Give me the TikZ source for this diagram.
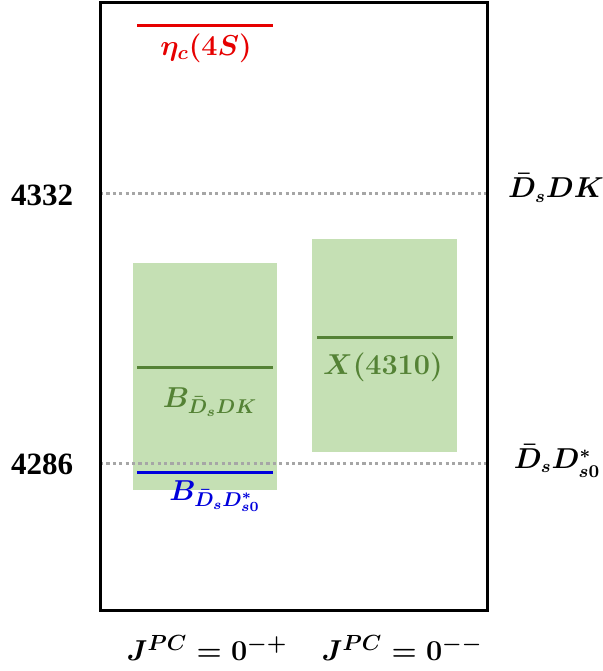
\documentclass[tikz,border=0pt]{standalone}
\usepackage{fontspec}
\setmainfont{Liberation Serif}
\usepackage{xcolor}
\usepackage{tikz}

\definecolor{levelred}{RGB}{230,0,0}
\definecolor{bandgreen}{RGB}{197,224,180}
\definecolor{levelgreen}{RGB}{84,130,53}
\definecolor{levelblue}{RGB}{0,0,220}
\definecolor{threshgray}{RGB}{166,166,166}

\tikzset{
  level/.style={line width=1.5pt},
  thresh/.style={threshgray, line width=1.5pt, dash pattern=on 1.6pt off 1.6pt},
  mlabel/.style={inner sep=0pt, font=\fontsize{14}{16}\selectfont\boldmath},
  tlabel/.style={inner sep=0pt, font=\fontsize{13.5}{16}\selectfont\boldmath},
  jlabel/.style={inner sep=0pt, font=\fontsize{15.5}{18}\selectfont\boldmath},
  masslabel/.style={inner sep=0pt, font=\fontsize{15.5}{18}\selectfont\bfseries}
}

\begin{document}
\begin{tikzpicture}[x=0.5pt,y=-0.5pt]

\useasboundingbox (0,0) rectangle (603,671);

% bands
\fill[bandgreen] (133,263) rectangle (277,490);
\fill[bandgreen] (312,239) rectangle (457,452);

% thresholds
\coordinate (t1l) at (100,193);
\coordinate (t1r) at (487,193);
\coordinate (t2l) at (100,463);
\coordinate (t2r) at (487,463);

\draw[thresh] (t1l) -- (t1r);
\draw[thresh] (t2l) -- (t2r);

% levels
\draw[level, levelred] (137,25) -- (273,25);
\draw[level, levelgreen] (137,367) -- (273,367);
\draw[level, levelgreen] (317,337) -- (453,337);
\draw[level, levelblue] (137,472) -- (273,472);

% frame
\draw[line width=1.5pt] (100,2) rectangle (487,610);

% labels
\node[mlabel, text=levelred] (etac) at (206,48) {$\eta_c(4S)$};
\node[mlabel, text=levelgreen] (bdk) at (210,402) {$B_{\bar{D}_sDK}$};
\node[mlabel, text=levelgreen] (x4310) at (383,367) {$X(4310)$};
\node[mlabel, text=levelblue] (bds0) at (215,496) {$B_{\bar{D}_sD^*_{s0}}$};

\node[masslabel] (m1) at (42,195) {4332};
\node[masslabel] (m2) at (42,464) {4286};

\node[tlabel] (dsdk) at (556,188) {$\bar{D}_sDK$};
\node[tlabel] (dsds0) at (557,461) {$\bar{D}_sD^*_{s0}$};

\node[jlabel] (jp) at (207,648) {$J^{PC}=0^{-+}$};
\node[jlabel] (jm) at (402,648) {$J^{PC}=0^{--}$};

\end{tikzpicture}
\end{document}
